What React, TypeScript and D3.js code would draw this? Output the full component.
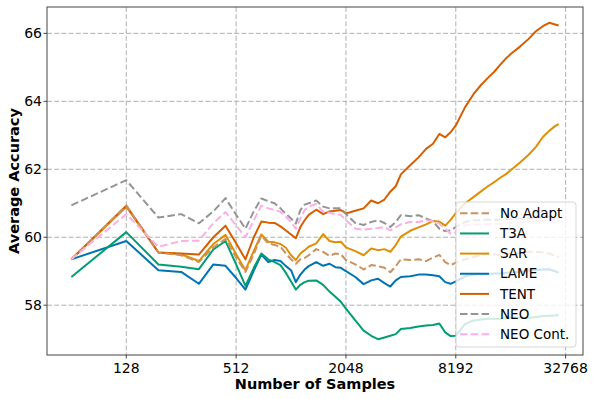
import React from 'react';
import * as d3 from 'd3';

// number of samples seen (x axis, log2 scale)
const samples = [
  64, 128, 192, 256, 320, 384, 448, 512, 576, 640,
  704, 768, 832, 896, 960, 1024, 1088, 1152, 1216, 1280,
  1408, 1536, 1664, 1792, 1920, 2048, 2304, 2560, 2816, 3072,
  3328, 3584, 3840, 4096, 4608, 5120, 5632, 6144, 6656, 7168,
  7680, 8192, 9216, 10240, 11264, 12288, 13312, 14336, 15360, 16384,
  18432, 20480, 22528, 24576, 26624, 28672, 30000,
];

const noAdapt = [
  59.35, 60.93, 59.55, 59.47, 59.27, 59.7, 59.95, 59.4, 58.98, 59.5,
  60.05, 59.82, 59.77, 59.72, 59.52, 59.35, 59.22, 59.35, 59.39, 59.47,
  59.65, 59.57, 59.45, 59.52, 59.5, 59.33, 59.2, 59.05, 59.18, 59.15,
  59.1, 58.97, 59.15, 59.35, 59.33, 59.35, 59.3, 59.4, 59.48, 59.27,
  59.18, 59.25, 59.35, 59.42, 59.47, 59.52, 59.5, 59.47, 59.5, 59.52,
  59.53, 59.57, 59.57, 59.55, 59.52, 59.45, 59.42,
];

const t3a = [
  58.83, 60.15, 59.2, 59.13, 59.06, 59.64, 59.89, 59.2, 58.57, 59.1,
  59.52, 59.35, 59.27, 59.18, 58.95, 58.7, 58.46, 58.6, 58.68, 58.72,
  58.73, 58.6, 58.4, 58.25, 58.1, 57.9, 57.55, 57.25, 57.1, 57.0,
  57.05, 57.1, 57.15, 57.3, 57.33, 57.37, 57.4, 57.42, 57.46, 57.2,
  57.09, 57.1, 57.45, 57.55, 57.58, 57.6, 57.6, 57.6, 57.62, 57.64,
  57.63, 57.62, 57.65, 57.68, 57.69, 57.7, 57.72,
];

const sar = [
  59.35, 60.9, 59.55, 59.5, 59.3, 59.8, 60.07, 59.5, 59.03, 59.6,
  60.08, 59.87, 59.85, 59.8, 59.69, 59.47, 59.33, 59.52, 59.62, 59.72,
  59.82, 60.09, 59.89, 59.85, 59.87, 59.7, 59.59, 59.47, 59.67, 59.62,
  59.65, 59.57, 59.77, 60.02, 60.19, 60.29, 60.38, 60.48, 60.46, 60.34,
  60.51, 60.71, 61.0, 61.18, 61.35, 61.5, 61.62, 61.75, 61.85, 61.97,
  62.2, 62.42, 62.66, 62.95, 63.13, 63.27, 63.33,
];

const lame = [
  59.35, 59.89, 59.03, 58.98, 58.63, 59.2, 59.16, 58.8, 58.46, 59.02,
  59.49, 59.27, 59.33, 59.3, 59.15, 59.03, 58.68, 58.9, 59.05, 59.15,
  59.27, 59.16, 59.22, 59.12, 59.1, 59.0, 58.83, 58.62, 58.73, 58.78,
  58.65, 58.55, 58.73, 58.83, 58.85, 58.9, 58.9, 58.88, 58.85, 58.68,
  58.63, 58.7, 58.85, 58.9, 58.92, 58.92, 58.93, 58.93, 58.95, 58.97,
  58.98, 59.02, 59.03, 59.05, 59.06, 59.0, 58.96,
];

const tent = [
  59.35, 60.93, 59.55, 59.52, 59.49, 60.0, 60.34, 59.82, 59.35, 60.0,
  60.46, 60.43, 60.42, 60.32, 60.2, 60.08, 59.97, 60.3, 60.5, 60.66,
  60.81, 60.68, 60.76, 60.78, 60.8, 60.7, 60.78, 60.85, 61.08, 61.0,
  61.11, 61.34, 61.5, 61.85, 62.12, 62.35, 62.6, 62.75, 63.04, 62.94,
  63.09, 63.29, 63.83, 64.21, 64.48, 64.69, 64.87, 65.07, 65.25, 65.39,
  65.61, 65.83, 66.06, 66.21, 66.31, 66.26, 66.23,
];

const neo = [
  60.94, 61.68, 60.58, 60.68, 60.41, 60.76, 61.15, 60.66, 60.25, 60.76,
  61.14, 61.06, 61.0, 60.85, 60.69, 60.55, 60.4, 60.8, 60.96, 61.0,
  61.08, 60.9, 60.85, 60.85, 60.85, 60.68, 60.42, 60.36, 60.45, 60.5,
  60.42, 60.3, 60.45, 60.65, 60.62, 60.65, 60.55, 60.47, 60.25, 60.18,
  60.2, 60.3, 60.45, 60.5, 60.5, 60.52, 60.5, 60.52, 60.53, 60.54,
  60.55, 60.55, 60.57, 60.6, 60.6, 60.52, 60.46,
];

const neoCont = [
  59.35, 60.68, 59.72, 59.89, 59.9, 60.41, 60.74, 60.35, 60.0, 60.5,
  60.93, 60.85, 60.8, 60.75, 60.6, 60.45, 60.25, 60.55, 60.8, 60.9,
  60.98, 60.75, 60.72, 60.68, 60.66, 60.5, 60.26, 60.22, 60.25, 60.27,
  60.3, 60.2, 60.3, 60.38, 60.45, 60.45, 60.5, 60.47, 60.4, 60.25,
  60.1, 60.15, 60.35, 60.37, 60.38, 60.38, 60.39, 60.4, 60.41, 60.42,
  60.44, 60.46, 60.47, 60.48, 60.47, 60.43, 60.41,
];

const xTicks = [128, 512, 2048, 8192, 32768];
const yTicks = [58, 60, 62, 64, 66];

// legend order
const series = [
  { name: 'No Adapt', values: noAdapt, color: '#ca9161', dashed: true },
  { name: 'T3A', values: t3a, color: '#029e73', dashed: false },
  { name: 'SAR', values: sar, color: '#de8f05', dashed: false },
  { name: 'LAME', values: lame, color: '#0173b2', dashed: false },
  { name: 'TENT', values: tent, color: '#d55e00', dashed: false },
  { name: 'NEO', values: neo, color: '#949494', dashed: true },
  { name: 'NEO Cont.', values: neoCont, color: '#fbafe4', dashed: true },
];

// drawing order (later on top)
const drawOrder = ['LAME', 'T3A', 'SAR', 'TENT', 'No Adapt', 'NEO', 'NEO Cont.'];

const App = () => {
  const W = 598;
  const H = 399;
  const margin = { top: 7, right: 15, bottom: 44, left: 47 };
  const width = W - margin.left - margin.right;
  const height = H - margin.top - margin.bottom;

  // matplotlib-like 5% padding
  const lx = d3.extent(samples.map(d => Math.log2(d)));
  const padX = (lx[1] - lx[0]) * 0.05;
  const xScale = d3
    .scaleLog()
    .base(2)
    .domain([2 ** (lx[0] - padX), 2 ** (lx[1] + padX)])
    .range([0, width]);

  const allValues = series.flatMap(s => s.values);
  const [ymin, ymax] = d3.extent(allValues);
  const padY = (ymax - ymin) * 0.05;
  const yScale = d3.scaleLinear().domain([ymin - padY, ymax + padY]).range([height, 0]);

  const lineGenerator = d3
    .line()
    .x(d => xScale(d[0]))
    .y(d => yScale(d[1]));

  const font = 'DejaVu Sans, sans-serif';
  const gridColor = '#b0b0b0';
  const spineColor = '#444';

  const legendX = 456 - margin.left;
  const legendY = 202 - margin.top;
  const legendW = 120;
  const legendH = 145;
  const rowH = 20.15;

  return (
    <svg
      width={W}
      height={H}
      style={{ position: 'absolute', left: 0, top: 0, background: '#fff' }}
      fontFamily={font}
    >
      <g transform={`translate(${margin.left},${margin.top})`}>
        {/* Grid */}
        {xTicks.map(t => (
          <line
            key={`gx-${t}`}
            x1={xScale(t)}
            x2={xScale(t)}
            y1={0}
            y2={height}
            stroke={gridColor}
            strokeWidth={1}
            strokeDasharray="5,2.2"
          />
        ))}
        {yTicks.map(t => (
          <line
            key={`gy-${t}`}
            x1={0}
            x2={width}
            y1={yScale(t)}
            y2={yScale(t)}
            stroke={gridColor}
            strokeWidth={1}
            strokeDasharray="5,2.2"
          />
        ))}

        {/* Lines */}
        {drawOrder.map(name => {
          const s = series.find(d => d.name === name);
          const pts = samples.map((n, i) => [n, s.values[i]]);
          return (
            <path
              key={name}
              d={lineGenerator(pts)}
              fill="none"
              stroke={s.color}
              strokeWidth={2}
              strokeLinejoin="round"
              strokeDasharray={s.dashed ? '7.5,3.3' : undefined}
            />
          );
        })}

        {/* Spines */}
        <rect x={0} y={0} width={width} height={height} fill="none" stroke={spineColor} strokeWidth={1} />

        {/* X Axis */}
        <g transform={`translate(0,${height})`}>
          {xTicks.map(t => (
            <g key={t} transform={`translate(${xScale(t)},0)`}>
              <line y2={3.5} stroke={spineColor} />
              <text y={17.5} textAnchor="middle" fill="#000" fontSize={14}>
                {t}
              </text>
            </g>
          ))}
          <text
            x={width / 2}
            y={33.5}
            textAnchor="middle"
            fontWeight="bold"
            fontSize={14.5}
            fill="#000"
          >
            Number of Samples
          </text>
        </g>

        {/* Y Axis */}
        <g>
          {yTicks.map(t => (
            <g key={t} transform={`translate(0,${yScale(t)})`}>
              <line x2={-3.5} stroke={spineColor} />
              <text x={-5} dy="0.35em" textAnchor="end" fill="#000" fontSize={14}>
                {t}
              </text>
            </g>
          ))}
          <text
            transform={`translate(${-28},${height / 2}) rotate(-90)`}
            textAnchor="middle"
            fontWeight="bold"
            fontSize={14.5}
            fill="#000"
          >
            Average Accuracy
          </text>
        </g>

        {/* Legend */}
        <g transform={`translate(${legendX},${legendY})`}>
          <rect
            width={legendW}
            height={legendH}
            rx={3}
            fill="rgba(255,255,255,0.8)"
            stroke="#d6d6d6"
            strokeWidth={1}
          />
          {series.map((s, i) => {
            const cy = 11.3 + i * rowH;
            return (
              <g key={s.name} transform={`translate(0,${cy})`}>
                <line
                  x1={4}
                  x2={33}
                  stroke={s.color}
                  strokeWidth={2}
                  strokeDasharray={s.dashed ? '7.5,3.3' : undefined}
                />
                <text x={44} dy="0.35em" fontSize={13.5} fill="#000">
                  {s.name}
                </text>
              </g>
            );
          })}
        </g>
      </g>
    </svg>
  );
};

export default App;
